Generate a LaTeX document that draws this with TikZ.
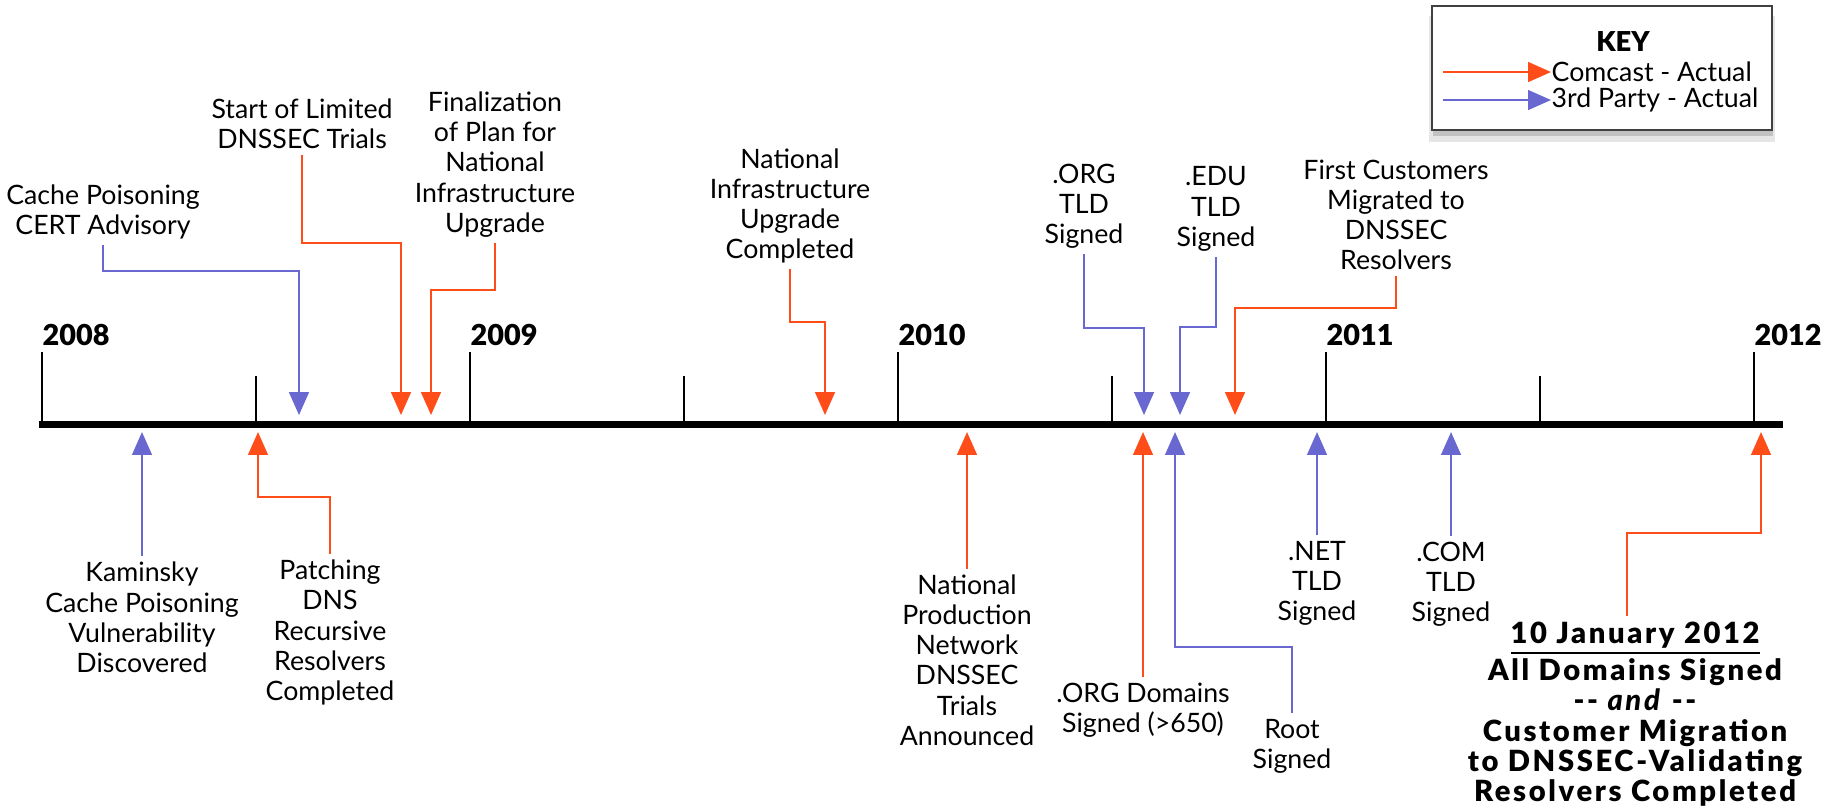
\documentclass[tikz,border=0pt]{standalone}
\usepackage{fontspec}
\setmainfont{Lato}
\newfontfamily\heavyfont{Lato Black}
\usepackage{tikz}
\usetikzlibrary{arrows.meta, positioning, shadows}
\definecolor{comcastcolor}{HTML}{FF4D1A}
\definecolor{thirdcolor}{HTML}{6868D0}

\begin{document}
\begin{tikzpicture}[
    event/.style={align=center, inner sep=1.5pt, font=\fontsize{7.6}{8.6}\selectfont},
    keytext/.style={anchor=west, inner sep=0pt, font=\fontsize{7.6}{8.6}\selectfont},
    finalevent/.style={align=center, inner sep=1.5pt, font=\heavyfont\fontsize{8.3}{8.6}\selectfont\addfontfeature{LetterSpace=9}},
    yearlabel/.style={anchor=west, inner sep=0pt, font=\heavyfont\fontsize{8.2}{10}\selectfont},
    comcast/.style={-{Triangle[length=6.5pt, width=5.6pt]}, comcastcolor, line width=0.6pt},
    thirdparty/.style={-{Triangle[length=6.5pt, width=5.6pt]}, thirdcolor, line width=0.6pt},
    keybox/.style={rectangle, draw=black!75, line width=0.8pt, fill=white, minimum width=3.40cm, minimum height=1.24cm,
        drop shadow={shadow xshift=0pt, shadow yshift=-3pt, shadow scale=1.02, opacity=0.2},
        drop shadow={shadow xshift=0.4pt, shadow yshift=-1.8pt, opacity=0.35}}
]
    \useasboundingbox (0,0) rectangle (18.22,-8.07);

    % Timeline axis
    \coordinate (axisL) at (0.39,-4.24);
    \coordinate (axisR) at (17.83,-4.24);
    \draw[line width=2pt] (axisL) -- (axisR);

    % Years and half-year marks
    \foreach \yr [count=\i from 0] in {2008,2009,2010,2011,2012} {
        \draw[line width=0.6pt] (0.42+4.28*\i,-4.24) -- ++(0,0.72);
        \node[yearlabel] (y\yr) at (0.42+4.28*\i,-3.35) {\yr};
    }
    \foreach \i in {0,...,3}
        \draw[line width=0.6pt] (2.56+4.28*\i,-4.24) -- ++(0,0.48);

    % Events above the axis
    \node[event] (cert) at (1.03,-2.12) {Cache Poisoning\\CERT Advisory};
    \node[event] (trials) at (3.02,-1.24) {Start of Limited\\DNSSEC Trials};
    \node[event] (plan) at (4.95,-1.645) {Finalization\\of Plan for\\National\\Infrastructure\\Upgrade};
    \node[event] (upgrade) at (7.90,-2.06) {National\\Infrastructure\\Upgrade\\Completed};
    \node[event] (orgtld) at (10.84,-2.06) {.ORG\\TLD\\Signed};
    \node[event] (edutld) at (12.16,-2.09) {.EDU\\TLD\\Signed};
    \node[event] (firstcust) at (13.96,-2.15) {First Customers\\Migrated to\\DNSSEC\\Resolvers};

    \coordinate (certBend) at (2.99,-2.71);   \coordinate (certTip) at (2.99,-4.15);
    \coordinate (trialsBend) at (4.01,-2.43); \coordinate (trialsTip) at (4.01,-4.15);
    \coordinate (planBend) at (4.31,-2.90);   \coordinate (planTip) at (4.31,-4.15);
    \coordinate (upgradeBend) at (8.25,-3.22); \coordinate (upgradeTip) at (8.25,-4.15);
    \coordinate (orgtldBend) at (11.44,-3.28); \coordinate (orgtldTip) at (11.44,-4.15);
    \coordinate (edutldBend) at (11.80,-3.27); \coordinate (edutldTip) at (11.80,-4.15);
    \coordinate (firstcustBend) at (12.35,-3.08); \coordinate (firstcustTip) at (12.35,-4.15);

    \draw[thirdparty] (cert.south) |- (certBend) -- (certTip);
    \draw[comcast] (trials.south) |- (trialsBend) -- (trialsTip);
    \draw[comcast] (plan.south) |- (planBend) -- (planTip);
    \draw[comcast] (upgrade.south) |- (upgradeBend) -- (upgradeTip);
    \draw[thirdparty] (orgtld.south) |- (orgtldBend) -- (orgtldTip);
    \draw[thirdparty] (edutld.south) |- (edutldBend) -- (edutldTip);
    \draw[comcast] (firstcust.south) |- (firstcustBend) -- (firstcustTip);

    % Events below the axis
    \node[event] (kaminsky) at (1.42,-6.175) {Kaminsky\\Cache Poisoning\\Vulnerability\\Discovered};
    \node[event] (patching) at (3.30,-6.325) {Patching\\DNS\\Recursive\\Resolvers\\Completed};
    \node[event] (natprod) at (9.67,-6.60) {National\\Production\\Network\\DNSSEC\\Trials\\Announced};
    \node[event] (orgdom) at (11.43,-7.10) {.ORG Domains\\Signed (>650)};
    \node[event] (root) at (12.92,-7.46) {Root\\Signed};
    \node[event] (nettld) at (13.17,-5.835) {.NET\\TLD\\Signed};
    \node[event] (comtld) at (14.51,-5.84) {.COM\\TLD\\Signed};
    \node[finalevent] (alldone) at (16.35,-7.14) {\underline{10 January 2012}\\All Domains Signed\\-{}- \textit{and} -{}-\\Customer Migration\\to DNSSEC-Validating\\Resolvers Completed};

    \coordinate (kaminskyTip) at (1.42,-4.32);
    \coordinate (patchingBend) at (2.58,-4.97); \coordinate (patchingTip) at (2.58,-4.32);
    \coordinate (natprodTip) at (9.67,-4.32);
    \coordinate (orgdomTip) at (11.43,-4.32);
    \coordinate (rootBend) at (11.75,-6.47);   \coordinate (rootTip) at (11.75,-4.32);
    \coordinate (nettldTip) at (13.17,-4.32);
    \coordinate (comtldTip) at (14.51,-4.32);
    \coordinate (alldoneBend) at (17.61,-5.33); \coordinate (alldoneTip) at (17.61,-4.32);

    \draw[thirdparty] (kaminsky.north) -- (kaminskyTip);
    \draw[comcast] (patching.north) |- (patchingBend) -- (patchingTip);
    \draw[comcast] (natprod.north) -- (natprodTip);
    \draw[comcast] (orgdom.north -| orgdomTip) -- (orgdomTip);
    \draw[thirdparty] (root.north) |- (rootBend) -- (rootTip);
    \draw[thirdparty] (nettld.north) -- (nettldTip);
    \draw[thirdparty] (comtld.north) -- (comtldTip);
    \draw[comcast] (alldone.north -| 16.27,0) |- (alldoneBend) -- (alldoneTip);

    % Key
    \node[keybox] (key) at (16.02,-0.68) {};
    \node[inner sep=0pt, font=\heavyfont\fontsize{7.8}{9}\selectfont] (keytitle) at (16.23,-0.42) {KEY};
    \node[keytext] (keycomcast) at (15.51,-0.72) {Comcast - Actual};
    \node[keytext] (keythird) at (15.51,-1.00) {3rd Party - Actual};
    \coordinate (keycomcastStart) at (14.43,-0.72);
    \coordinate (keythirdStart) at (14.43,-1.00);
    \draw[comcast] (keycomcastStart) -- (keycomcast.west);
    \draw[thirdparty] (keythirdStart) -- (keythird.west);
\end{tikzpicture}
\end{document}
